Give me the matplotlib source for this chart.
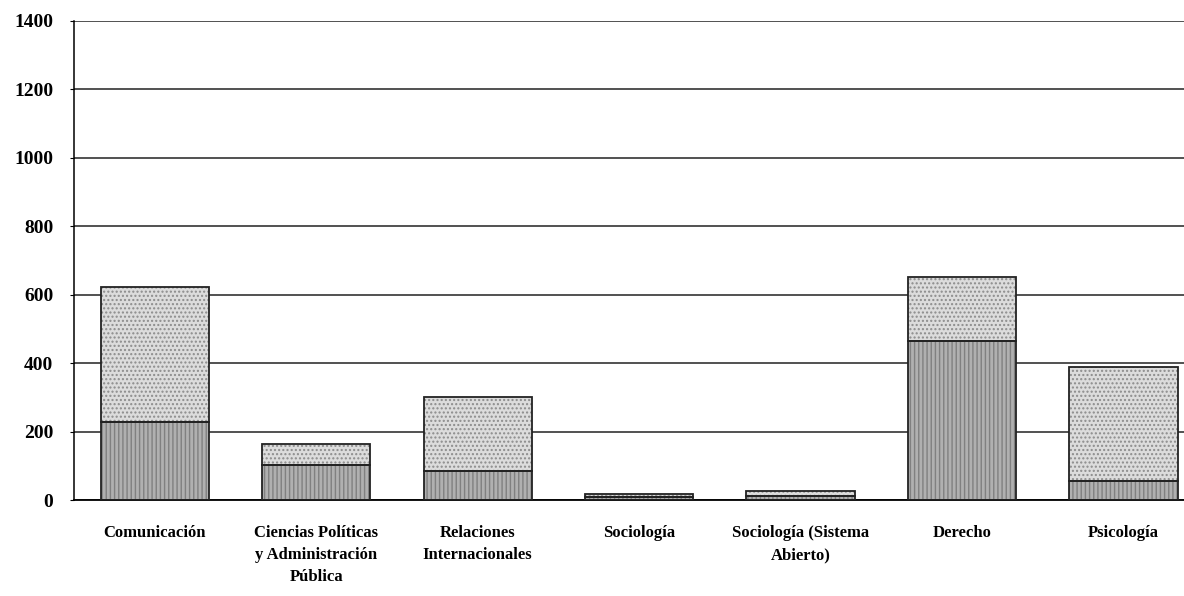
import matplotlib.pyplot as plt
import numpy as np

# data
carreras = ['Comunicación', 'Ciencias Políticas\ny Administración\nPública',
            'Relaciones\nInternacionales', 'Sociología',
            'Sociología (Sistema\nAbierto)', 'Derecho', 'Psicología']
inferior = [228, 102, 85, 10, 12, 464, 55]
superior = [394, 62, 215, 8, 14, 188, 333]
yticks = [0, 200, 400, 600, 800, 1000, 1200, 1400]

plt.rcParams['font.family'] = ['Liberation Serif', 'DejaVu Serif']

fig = plt.figure(figsize=(11.84, 5.96), dpi=100)
ax = fig.add_axes([0.0625, 0.161, 0.945, 0.804])

x = np.arange(len(carreras))
w = 0.67

# filled, textured parts
ax.bar(x, inferior, w, color='#b0b0b0', hatch='||||', edgecolor='#808080', linewidth=0, zorder=2)
ax.bar(x, superior, w, bottom=inferior, color='#dcdcdc', hatch='....', edgecolor='#8c8c8c',
       linewidth=0, zorder=2)
# black outlines
ax.bar(x, inferior, w, fill=False, edgecolor='#222222', linewidth=1.3, zorder=3)
ax.bar(x, superior, w, bottom=inferior, fill=False, edgecolor='#222222', linewidth=1.3, zorder=3)

ax.set_ylim(0, 1400)
ax.set_xlim(-0.5, 6.43)
ax.set_yticks(yticks)
ax.set_yticklabels([str(v) for v in yticks], fontsize=14, fontweight='semibold')
ax.yaxis.grid(True, color='#222222', linewidth=1.1, zorder=1)
ax.set_axisbelow(True)
ax.set_xticks(x)
ax.set_xticklabels(carreras, fontsize=12, fontweight='bold', linespacing=1.5, va='top')
ax.tick_params(axis='x', length=0, pad=18)
ax.tick_params(axis='y', length=3, width=0.8, pad=12)

for s in ['top', 'right']:
    ax.spines[s].set_visible(False)
ax.spines['left'].set_linewidth(1.1)
ax.spines['bottom'].set_linewidth(1.3)

fig.savefig('out.png', dpi=100)
